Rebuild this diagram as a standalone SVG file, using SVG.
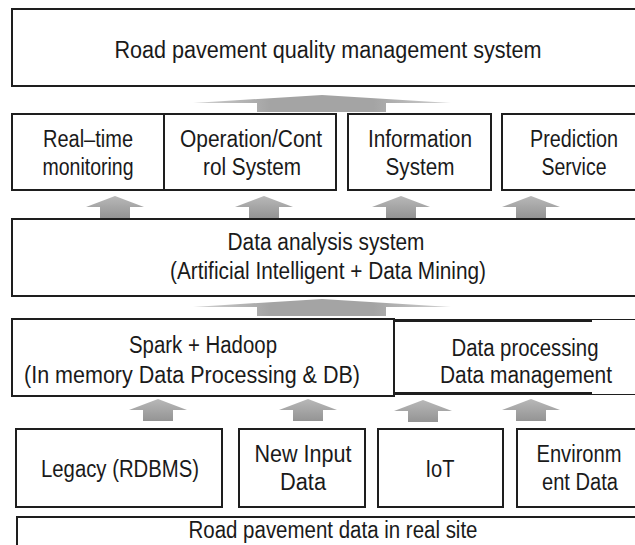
<svg xmlns="http://www.w3.org/2000/svg" width="635" height="545" viewBox="0 0 635 545">
<defs>
<linearGradient id="ag" x1="0" y1="0" x2="0" y2="1">
<stop offset="0" stop-color="#b8b8b8"/>
<stop offset="1" stop-color="#949494"/>
</linearGradient>
<linearGradient id="bg" x1="0" y1="0" x2="1" y2="0">
<stop offset="0" stop-color="#d2d2d2"/>
<stop offset="0.3" stop-color="#a4a4a4"/>
<stop offset="0.7" stop-color="#a4a4a4"/>
<stop offset="1" stop-color="#d2d2d2"/>
</linearGradient>
<polygon id="sa" points="0,0 29,11 15,11 15,22 -15,22 -15,11 -29,11"/>
</defs>
<style>
.box{fill:#fff;stroke:#1e1e1e;stroke-width:2}
.ln{stroke:#1e1e1e;fill:none}
text{font-family:"Liberation Sans","DejaVu Sans",sans-serif;font-size:23px;fill:#1a1a1a;text-anchor:middle}
.arr{fill:url(#ag)}
.big{fill:url(#bg)}
</style>
<rect width="635" height="545" fill="#fff"/>

<g id="connectors">
<polygon class="big" points="193,103 322,95 451,103 386,103 386,112 257,112 257,103"/>
<polygon class="big" points="193,307 322,299 451,307 386,307 386,316 257,316 257,307"/>
<use href="#sa" class="arr" x="115" y="196"/>
<use href="#sa" class="arr" x="264" y="196"/>
<use href="#sa" class="arr" x="401" y="196"/>
<use href="#sa" class="arr" x="531" y="196"/>
<use href="#sa" class="arr" x="158" y="399"/>
<use href="#sa" class="arr" x="308" y="399"/>
<use href="#sa" class="arr" x="423" y="400"/>
<use href="#sa" class="arr" x="531" y="399"/>
</g>

<g id="top">
<rect class="box" x="12" y="9" width="630" height="77"/>
<text x="328" y="58" textLength="427" lengthAdjust="spacingAndGlyphs">Road pavement quality management system</text>
</g>

<g id="realtime">
<rect class="box" x="12" y="114" width="152" height="76"/>
<text x="88" y="147" textLength="90" lengthAdjust="spacingAndGlyphs">Real–time</text>
<text x="88" y="175" textLength="91" lengthAdjust="spacingAndGlyphs">monitoring</text>
</g>
<g id="operation">
<rect class="box" x="164" y="114" width="172" height="76"/>
<text x="251" y="147" textLength="142" lengthAdjust="spacingAndGlyphs">Operation/Cont</text>
<text x="252" y="175" textLength="98" lengthAdjust="spacingAndGlyphs">rol System</text>
</g>
<g id="information">
<rect class="box" x="348" y="114" width="143" height="76"/>
<text x="420" y="147" textLength="104" lengthAdjust="spacingAndGlyphs">Information</text>
<text x="420" y="175" textLength="69" lengthAdjust="spacingAndGlyphs">System</text>
</g>
<g id="prediction">
<rect class="box" x="502" y="114" width="140" height="76"/>
<text x="574" y="147" textLength="88" lengthAdjust="spacingAndGlyphs">Prediction</text>
<text x="574" y="175" textLength="65" lengthAdjust="spacingAndGlyphs">Service</text>
</g>

<g id="analysis">
<rect class="box" x="12" y="219" width="630" height="77"/>
<text x="326" y="250" textLength="197" lengthAdjust="spacingAndGlyphs">Data analysis system</text>
<text x="328" y="279" textLength="316" lengthAdjust="spacingAndGlyphs">(Artificial Intelligent + Data Mining)</text>
</g>

<g id="spark">
<rect class="box" x="12" y="319" width="382" height="77"/>
<text x="203" y="353" textLength="148" lengthAdjust="spacingAndGlyphs">Spark + Hadoop</text>
<text x="192" y="383" textLength="336" lengthAdjust="spacingAndGlyphs">(In memory Data Processing &amp; DB)</text>
</g>

<g id="dataprocessing">
<rect x="394" y="320" width="241" height="74" fill="#fff"/>
<path class="ln" stroke-width="2" d="M394,320 V394"/>
<path class="ln" stroke-width="3" d="M393,320.5 H592 M393,393.5 H592"/>
<path class="ln" stroke-width="1.2" d="M592,319.5 H635 M592,394.5 H635"/>
<text x="525" y="356" textLength="147" lengthAdjust="spacingAndGlyphs">Data processing</text>
<text x="526" y="383" textLength="172" lengthAdjust="spacingAndGlyphs">Data management</text>
</g>

<g id="legacy">
<rect class="box" x="16" y="429" width="206" height="78"/>
<text x="120" y="477" textLength="158" lengthAdjust="spacingAndGlyphs">Legacy (RDBMS)</text>
</g>
<g id="newinput">
<rect class="box" x="239" y="429" width="126" height="78"/>
<text x="303" y="462" textLength="97" lengthAdjust="spacingAndGlyphs">New Input</text>
<text x="303" y="490" textLength="46" lengthAdjust="spacingAndGlyphs">Data</text>
</g>
<g id="iot">
<rect class="box" x="378" y="429" width="125" height="78"/>
<text x="440" y="477" textLength="29" lengthAdjust="spacingAndGlyphs">IoT</text>
</g>
<g id="environment">
<rect class="box" x="517" y="429" width="125" height="78"/>
<text x="579" y="462" textLength="85" lengthAdjust="spacingAndGlyphs">Environm</text>
<text x="580" y="490" textLength="76" lengthAdjust="spacingAndGlyphs">ent Data</text>
</g>

<g id="roaddata">
<rect class="box" x="17" y="517" width="625" height="40"/>
<text x="333" y="538" textLength="289" lengthAdjust="spacingAndGlyphs">Road pavement data in real site</text>
</g>
</svg>
